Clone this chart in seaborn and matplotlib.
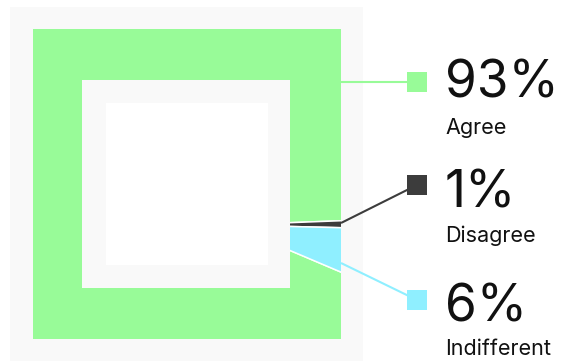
import matplotlib
matplotlib.use("Agg")
import matplotlib.pyplot as plt
import seaborn as sns
from matplotlib.patches import Rectangle

# data
labels = ["Agree", "Disagree", "Indifferent"]
values = [93, 1, 6]
colors = ["#98fb98", "#3c3c3c", "#8fefff"]
pct_text = [f"{v}%" for v in values]

# layout (pixel positions, y measured from top)
line_start = [(341, 82), (341, 223), (341, 263)]
marker_y = [82, 185, 300]
num_base = [98, 207, 321]
label_base = [134, 242, 355]

sns.set_theme(style="white")
plt.rcParams["font.family"] = ["Inter", "DejaVu Sans"]

W, H = 573, 361
fig = plt.figure(figsize=(W / 100, H / 100), dpi=100)
ax = fig.add_axes([0, 0, 1, 1])


def py(y):
    return H - y


bg = "#f9f9f9"
ax.add_patch(Rectangle((10, py(361)), 353, 354, color=bg, lw=0, zorder=0))

# pie clipped to the outer square of the ring
clip = Rectangle((33, py(339)), 308, 310, transform=ax.transData)
wedges, _ = ax.pie(values, colors=colors, startangle=-23, counterclock=False,
                   center=(230, py(225)), radius=400,
                   wedgeprops=dict(edgecolor="white", linewidth=1.1))
for w in wedges:
    w.set_clip_on(True)
    w.set_clip_path(clip)
    w.set_zorder(1)

# hole of the ring
ax.add_patch(Rectangle((82, py(288)), 208, 208, color=bg, lw=0, zorder=3))
ax.add_patch(Rectangle((106, py(265)), 162, 162, color="white", lw=0, zorder=4))

# connectors, markers and labels
mx = 417
for i in range(len(values)):
    x0, y0 = line_start[i]
    ax.plot([x0, mx], [py(y0), py(marker_y[i])], color=colors[i], lw=1.5,
            solid_capstyle="butt", zorder=5)
    ax.scatter([mx], [py(marker_y[i])], marker="s", s=207, color=colors[i],
               linewidths=0, zorder=6)
    ax.text(445, py(num_base[i]), pct_text[i], fontsize=37, va="baseline",
            ha="left", color="#111111")
    ax.text(445, py(label_base[i]), labels[i], fontsize=15.5, va="baseline",
            ha="left", color="#111111")

ax.set_xlim(0, W)
ax.set_ylim(0, H)
ax.set_aspect("auto")
ax.axis("off")
fig.savefig("out.png", dpi=100, facecolor="white")
